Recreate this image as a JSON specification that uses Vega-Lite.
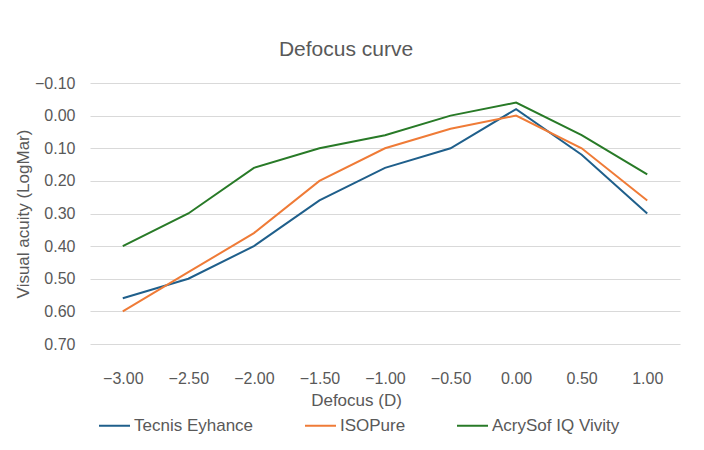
{
  "$schema": "https://vega.github.io/schema/vega-lite/v6.json",
  "autosize": {"type": "none"},
  "width": 590,
  "height": 261,
  "padding": {"left": 90, "top": 83, "right": 24, "bottom": 106},
  "background": "white",
  "title": {"text": "Defocus curve", "fontSize": 21, "font": "Liberation Sans", "fontWeight": "normal", "color": "#595959", "offset": 15, "anchor": "middle", "dx": -39},
  "config": {
    "view": {"stroke": null},
    "font": "Liberation Sans",
    "axis": {"labelFont": "Liberation Sans", "titleFont": "Liberation Sans", "labelColor": "#595959", "titleColor": "#595959", "labelFontSize": 16, "titleFontSize": 17, "titleFontWeight": "normal", "domain": false, "ticks": false, "gridColor": "#d9d9d9", "gridWidth": 1}
  },
  "data": {"values": [
    {"D": -3.0, "series": "Tecnis Eyhance", "va": 0.56},
    {"D": -2.5, "series": "Tecnis Eyhance", "va": 0.50},
    {"D": -2.0, "series": "Tecnis Eyhance", "va": 0.40},
    {"D": -1.5, "series": "Tecnis Eyhance", "va": 0.26},
    {"D": -1.0, "series": "Tecnis Eyhance", "va": 0.16},
    {"D": -0.5, "series": "Tecnis Eyhance", "va": 0.10},
    {"D": 0.0, "series": "Tecnis Eyhance", "va": -0.02},
    {"D": 0.5, "series": "Tecnis Eyhance", "va": 0.12},
    {"D": 1.0, "series": "Tecnis Eyhance", "va": 0.30},
    {"D": -3.0, "series": "ISOPure", "va": 0.60},
    {"D": -2.5, "series": "ISOPure", "va": 0.48},
    {"D": -2.0, "series": "ISOPure", "va": 0.36},
    {"D": -1.5, "series": "ISOPure", "va": 0.20},
    {"D": -1.0, "series": "ISOPure", "va": 0.10},
    {"D": -0.5, "series": "ISOPure", "va": 0.04},
    {"D": 0.0, "series": "ISOPure", "va": 0.00},
    {"D": 0.5, "series": "ISOPure", "va": 0.10},
    {"D": 1.0, "series": "ISOPure", "va": 0.26},
    {"D": -3.0, "series": "AcrySof IQ Vivity", "va": 0.40},
    {"D": -2.5, "series": "AcrySof IQ Vivity", "va": 0.30},
    {"D": -2.0, "series": "AcrySof IQ Vivity", "va": 0.16},
    {"D": -1.5, "series": "AcrySof IQ Vivity", "va": 0.10},
    {"D": -1.0, "series": "AcrySof IQ Vivity", "va": 0.06},
    {"D": -0.5, "series": "AcrySof IQ Vivity", "va": 0.00},
    {"D": 0.0, "series": "AcrySof IQ Vivity", "va": -0.04},
    {"D": 0.5, "series": "AcrySof IQ Vivity", "va": 0.06},
    {"D": 1.0, "series": "AcrySof IQ Vivity", "va": 0.18}
  ]},
  "mark": {"type": "line", "strokeWidth": 2, "clip": false},
  "encoding": {
    "x": {"field": "D", "type": "quantitative", "title": "Defocus (D)",
      "scale": {"domain": [-3.25, 1.25], "nice": false, "zero": false},
      "axis": {"values": [-3, -2.5, -2, -1.5, -1, -0.5, 0, 0.5, 1], "format": ".2f", "grid": false, "labelPadding": 26, "titlePadding": 6, "labelFlush": false, "titleX": 266}},
    "y": {"field": "va", "type": "quantitative", "title": "Visual acuity (LogMar)",
      "scale": {"domain": [-0.1, 0.7], "reverse": true, "nice": false, "zero": false},
      "axis": {"values": [-0.1, 0, 0.1, 0.2, 0.3, 0.4, 0.5, 0.6, 0.7], "format": ".2f", "labelPadding": 15, "titlePadding": 2, "labelFlush": false}},
    "color": {"field": "series", "type": "nominal",
      "scale": {"domain": ["Tecnis Eyhance", "ISOPure", "AcrySof IQ Vivity"], "range": ["#1f5f8b", "#ef7b37", "#287a27"]},
      "legend": {"title": null, "orient": "none", "legendX": 3, "legendY": 321, "direction": "horizontal", "symbolType": "stroke", "symbolSize": 961, "symbolStrokeWidth": 2, "labelFontSize": 17, "labelColor": "#595959", "labelFont": "Liberation Sans", "columnPadding": 47, "labelOffset": 3, "padding": 5}
    }
  }
}
